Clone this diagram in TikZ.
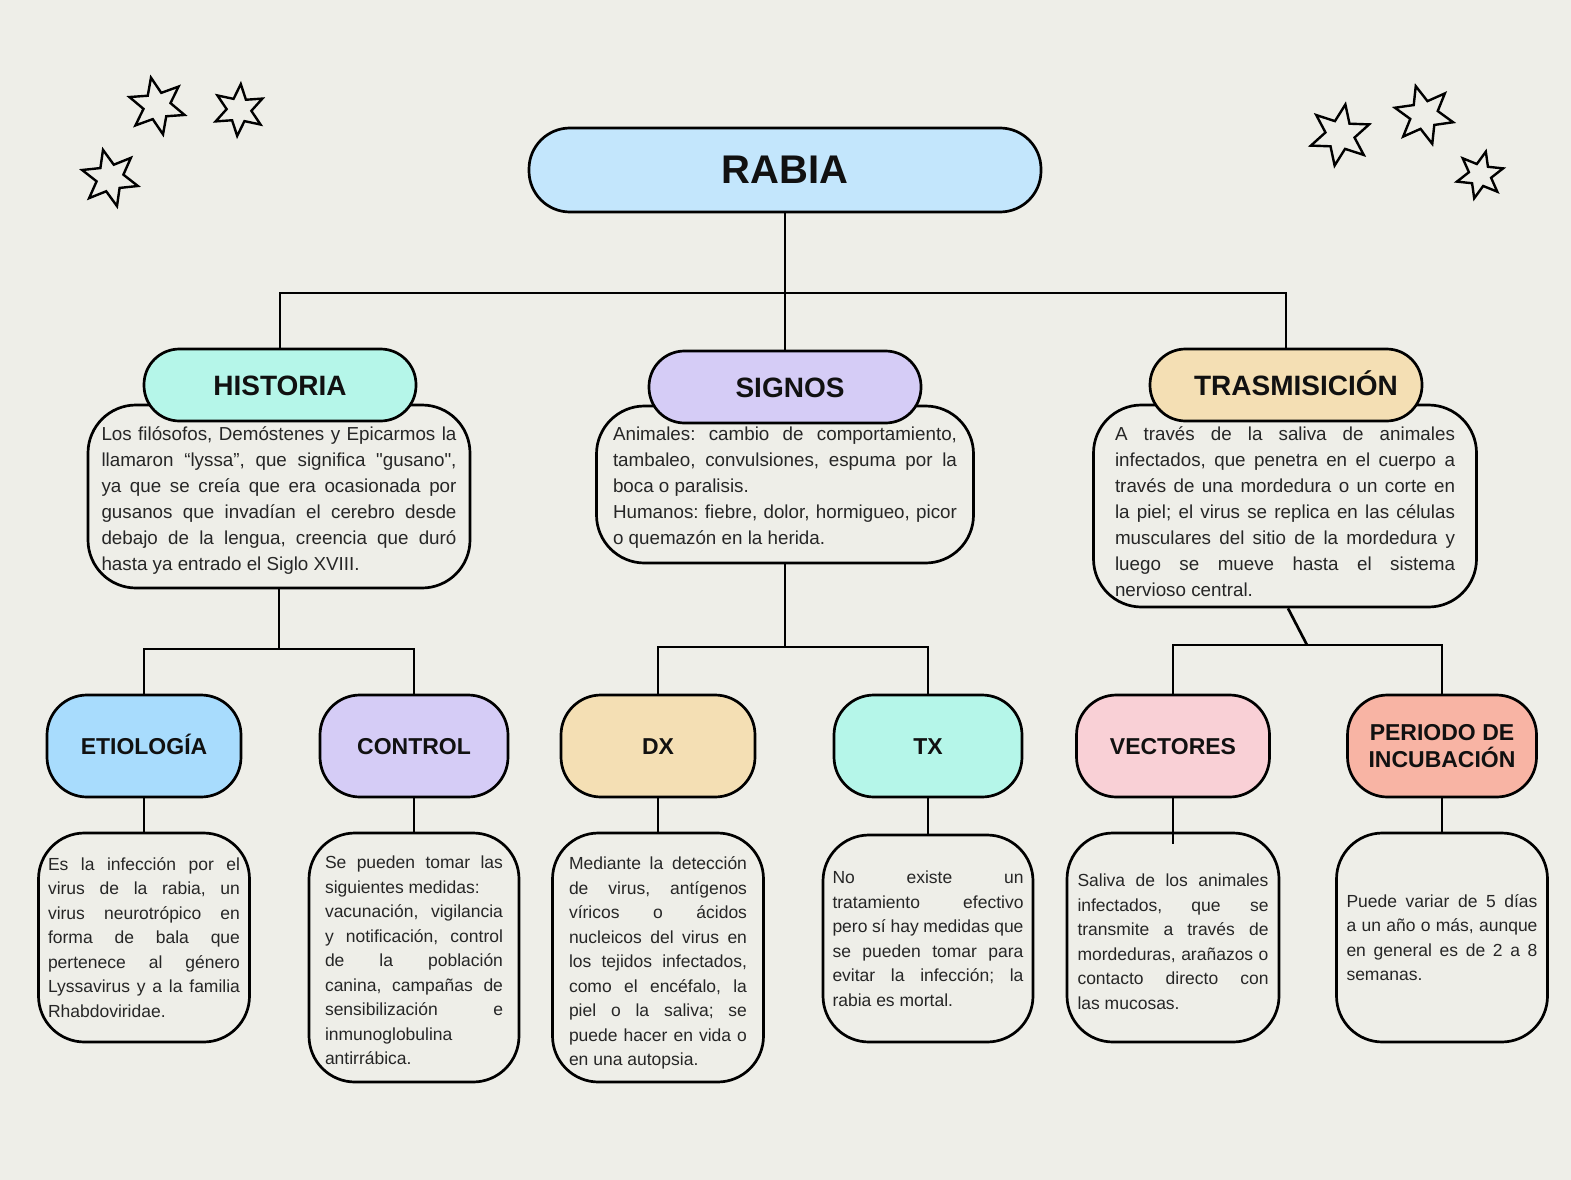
\documentclass[tikz,border=0pt]{standalone}
\usepackage{fontspec}
\setmainfont{Liberation Sans}[Ligatures=TeXOff]
\usetikzlibrary{shapes.geometric}
\definecolor{bgc}{HTML}{EEEEE8}
\definecolor{headc}{HTML}{111111}
\definecolor{bodyc}{HTML}{262626}
\definecolor{rabiac}{HTML}{C3E6FC}
\definecolor{mintc}{HTML}{B5F6E9}
\definecolor{lavc}{HTML}{D5CCF6}
\definecolor{tanc}{HTML}{F4DFB4}
\definecolor{bluec}{HTML}{A8DCFD}
\definecolor{pinkc}{HTML}{F9D0D6}
\definecolor{salmc}{HTML}{F8B4A4}
\newcommand{\jfy}{\frenchspacing\rightskip=0pt\leftskip=0pt\parfillskip=0pt plus 1fil\parindent=0pt\tolerance=10000\hyphenpenalty=10000\exhyphenpenalty=10000\relax}
\newcommand{\lift}[1]{\rule{0pt}{#1}}
\tikzset{
  lnk/.style={draw=black, line width=2.7pt},
  toppill/.style={draw=black, line width=2.7pt, rounded corners=41pt, minimum width=512pt, minimum height=84pt, inner sep=0pt, font=\fontsize{40}{44}\selectfont\bfseries, text=headc},
  head1/.style={draw=black, line width=2.7pt, rounded corners=35.5pt, minimum width=272pt, minimum height=72pt, inner sep=0pt, text height=20pt, text depth=0pt, font=\fontsize{28}{32}\selectfont\bfseries, text=headc},
  head2/.style={draw=black, line width=2.7pt, rounded corners=40pt, minimum height=102pt, inner sep=0pt, align=center, font=\fontsize{23}{27}\selectfont\bfseries, text=headc},
  oneline/.style={text height=16.5pt, text depth=0pt},
  body1/.style={draw=black, line width=2.7pt, rounded corners=48pt, fill=bgc, inner ysep=0pt, align=justify, font=\fontsize{18.8}{26}\selectfont, text=bodyc},
  body2/.style={draw=black, line width=2.7pt, rounded corners=46pt, fill=bgc, inner ysep=0pt, align=justify, font=\fontsize{17.5}{24.5}\selectfont, text=bodyc},
  starnode/.style={draw=black, line width=2.4pt, star, star points=6, star point ratio=2.1, inner sep=0pt, fill=bgc}
}
\begin{document}
\begin{tikzpicture}[x=1pt,y=-1pt]
\useasboundingbox (0,0) rectangle (1571,1180);
\fill[bgc] (0,0) rectangle (1571,1180);

% stars
\node[starnode, minimum size=58pt, rotate=12] (st1) at (157,106) {};
\node[starnode, minimum size=52pt, rotate=-4] (st2) at (239,110) {};
\node[starnode, minimum size=58pt, rotate=14] (st3) at (110,178) {};
\node[starnode, minimum size=62pt, rotate=-10] (st4) at (1340,135) {};
\node[starnode, minimum size=60pt, rotate=16] (st5) at (1424,115) {};
\node[starnode, minimum size=48pt, rotate=-14] (st6) at (1480,175) {};

% top
\node[toppill, fill=rabiac] (rabia) at (785,170) {RABIA};

% level 1 bodies
\node[body1, text width=355pt, inner xsep=13.5pt, minimum height=183pt] (histb) at (279,496.5) {\jfy\lift{22pt}%
Los filósofos, Demóstenes y Epicarmos la\linebreak
llamaron “lyssa”, que significa "gusano",\linebreak
ya que se creía que era ocasionada por\linebreak
gusanos que invadían el cerebro desde\linebreak
debajo de la lengua, creencia que duró\linebreak
hasta ya entrado el Siglo XVIII.};
\node[body1, text width=344pt, inner xsep=16.5pt, minimum height=157pt] (sigb) at (785,484.5) {\jfy\lift{20pt}%
Animales: cambio de comportamiento,\linebreak
tambaleo, convulsiones, espuma por la\linebreak
boca o paralisis.\\
Humanos: fiebre, dolor, hormigueo, picor\linebreak
o quemazón en la herida.};
\node[body1, text width=340pt, inner xsep=21.5pt, minimum height=202pt] (trasb) at (1285,506) {\jfy\lift{26pt}%
A través de la saliva de animales\linebreak
infectados, que penetra en el cuerpo a\linebreak
través de una mordedura o un corte en\linebreak
la piel; el virus se replica en las células\linebreak
musculares del sitio de la mordedura y\linebreak
luego se mueve hasta el sistema\linebreak
nervioso central.};

% level 1 headers
\node[head1, fill=mintc] (hist) at (280,385) {HISTORIA};
\node[head1, fill=lavc] (sig) at (785,387) {\hspace*{10pt}SIGNOS};
\node[head1, fill=tanc] (tras) at (1286,385) {\hspace*{20pt}TRASMISICIÓN};

% level 2 headers
\node[head2, oneline, fill=bluec, minimum width=194pt] (etio) at (144,746) {ETIOLOGÍA};
\node[head2, oneline, fill=lavc, minimum width=188pt] (ctrl) at (414,746) {CONTROL};
\node[head2, oneline, fill=tanc, minimum width=194pt] (dx) at (658,746) {DX};
\node[head2, oneline, fill=mintc, minimum width=188pt] (tx) at (928,746) {TX};
\node[head2, oneline, fill=pinkc, minimum width=193pt] (vec) at (1173,746) {VECTORES};
\node[head2, fill=salmc, minimum width=189pt] (per) at (1442,746) {PERIODO DE\\INCUBACIÓN};

% level 2 bodies
\node[body2, text width=192pt, inner xsep=9.5pt, minimum height=209pt] (etiob) at (144,937.5) {\jfy
Es la infección por el\linebreak
virus de la rabia, un\linebreak
virus neurotrópico en\linebreak
forma de bala que\linebreak
pertenece al género\linebreak
Lyssavirus y a la familia\linebreak
Rhabdoviridae.};
\node[body2, text width=178pt, inner xsep=16pt, minimum height=249pt] (ctrlb) at (414,957.5) {\jfy\lift{19pt}%
Se pueden tomar las\linebreak
siguientes medidas:\\
vacunación, vigilancia\linebreak
y notificación, control\linebreak
de la población\linebreak
canina, campañas de\linebreak
sensibilización e\linebreak
inmunoglobulina\\
antirrábica.};
\node[body2, text width=178pt, inner xsep=16.5pt, minimum height=249pt] (dxb) at (658,957.5) {\jfy\lift{24pt}%
Mediante la detección\linebreak
de virus, antígenos\linebreak
víricos o ácidos\linebreak
nucleicos del virus en\linebreak
los tejidos infectados,\linebreak
como el encéfalo, la\linebreak
piel o la saliva; se\linebreak
puede hacer en vida o\linebreak
en una autopsia.};
\node[body2, text width=191pt, inner xsep=9.5pt, minimum height=207pt] (txb) at (928,938.5) {\jfy
No existe un\linebreak
tratamiento efectivo\linebreak
pero sí hay medidas que\linebreak
se pueden tomar para\linebreak
evitar la infección; la\linebreak
rabia es mortal.};
\node[body2, text width=191pt, inner xsep=10.5pt, minimum height=209pt] (vecb) at (1173,937.5) {\jfy\lift{21pt}%
Saliva de los animales\linebreak
infectados, que se\linebreak
transmite a través de\linebreak
mordeduras, arañazos o\linebreak
contacto directo con\linebreak
las mucosas.};
\node[body2, text width=191pt, inner xsep=10pt, minimum height=209pt] (perb) at (1442,937.5) {\jfy
Puede variar de 5 días\linebreak
a un año o más, aunque\linebreak
en general es de 2 a 8\linebreak
semanas.};

% connectors
\coordinate (j1) at (785,293);
\coordinate (j2) at (279,649);
\coordinate (j3) at (785,647);
\coordinate (j4) at (1307,645);
\draw[lnk] (rabia.south) -- (sig.north);
\draw[lnk] (hist.north) |- (j1) -| (tras.north);
\draw[lnk] (histb.south) -- (j2);
\draw[lnk] (etio.north) |- (j2) -| (ctrl.north);
\draw[lnk] (sigb.south) -- (j3);
\draw[lnk] (dx.north) |- (j3) -| (tx.north);
\draw[lnk] ([xshift=3pt]trasb.south) -- (j4);
\draw[lnk] (vec.north) |- (j4) -| (per.north);
\draw[lnk] (etio.south) -- (etiob.north);
\draw[lnk] (ctrl.south) -- (ctrlb.north);
\draw[lnk] (dx.south) -- (dxb.north);
\draw[lnk] (tx.south) -- (txb.north);
\draw[lnk] (vec.south) -- ([yshift=-12pt]vecb.north);
\draw[lnk] (per.south) -- (perb.north);
\end{tikzpicture}
\end{document}
